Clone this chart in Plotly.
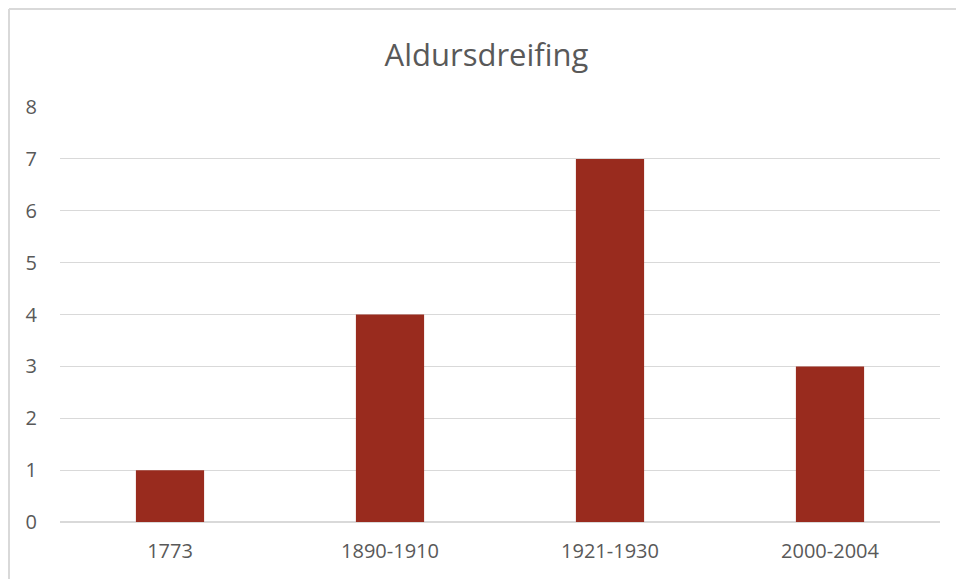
import plotly.graph_objects as go

categories = ["1773", "1890-1910", "1921-1930", "2000-2004"]
values = [1, 4, 7, 3]
y_ticks = [0, 1, 2, 3, 4, 5, 6, 7, 8]

W, H = 956, 579
L, R, T, B = 60, 16, 107, 57
pw, ph = W - L - R, H - T - B

def px(x):
    return (x - L) / pw

def py(y):
    return (H - B - y) / ph

fig = go.Figure(go.Bar(
    x=categories, y=values,
    marker=dict(color="#992B1E", line=dict(width=0)),
))

fig.update_layout(
    width=W, height=H,
    margin=dict(l=L, r=R, t=T, b=B),
    paper_bgcolor="white", plot_bgcolor="white",
    bargap=0.69,
    showlegend=False,
    title=dict(text="Aldursdreifing", x=px(486.5), xref="paper", xanchor="center",
               y=1 - 55 / H, yanchor="middle",
               font=dict(family="Open Sans", size=31, color="#595959")),
    font=dict(family="Open Sans", size=20, color="#595959"),
    xaxis=dict(showgrid=False, showline=False, ticks="", zeroline=False,
               ticklabelstandoff=15,
               tickfont=dict(size=20, color="#595959")),
    yaxis=dict(range=[0, 8], tickvals=y_ticks, showgrid=True, gridcolor="#D9D9D9",
               gridwidth=1, zeroline=True, zerolinecolor="#D9D9D9", zerolinewidth=2,
               showline=False, ticks="", ticklabelstandoff=22,
               tickfont=dict(size=20, color="#595959")),
    shapes=[
        dict(type="line", xref="paper", yref="paper", x0=px(9), x1=px(9), y0=py(9), y1=py(H),
             line=dict(color="#D9D9D9", width=2)),
        dict(type="line", xref="paper", yref="paper", x0=px(9), x1=px(W), y0=py(9), y1=py(9),
             line=dict(color="#D9D9D9", width=2)),
    ],
)

fig.write_html("out.html", config={"displayModeBar": False},
               post_script="document.body.style.margin='0';document.body.style.overflow='hidden';")
